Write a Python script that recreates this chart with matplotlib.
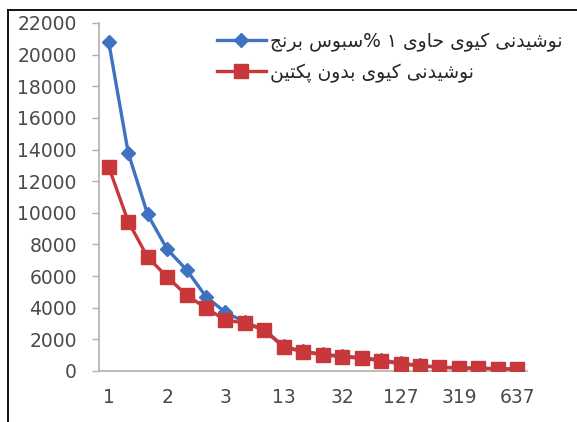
import matplotlib
matplotlib.use("Agg")
import matplotlib.pyplot as plt
from matplotlib.lines import Line2D

# ---------------- data ----------------
tick_labels = ["1", "2", "3", "13", "32", "127", "319", "637"]
n_points = 22
blue_values = [20800, 13800, 9900, 7700, 6400, 4700, 3700, 3100, 2600, 1550,
               1250, 1050, 950, 850, 700, 500, 350, 250, 200, 180, 150, 130]
red_values = [12900, 9450, 7200, 5950, 4800, 3980, 3220, 3030, 2580, 1500,
              1220, 1020, 900, 800, 650, 450, 320, 230, 190, 170, 140, 120]
label_blue = "نوشیدنی کیوی حاوی ۱ %سبوس برنج"
label_red = "نوشیدنی کیوی بدون پکتین"
y_ticks = list(range(0, 22001, 2000))

# ------------- minimal Arabic/Persian shaping (presentation forms) -------------
FORMS = {  # iso, fin, init, med
    'ا': ('\uFE8D', '\uFE8E', None, None),
    'ب': ('\uFE8F', '\uFE90', '\uFE91', '\uFE92'),
    'پ': ('\uFB56', '\uFB57', '\uFB58', '\uFB59'),
    'ت': ('\uFE95', '\uFE96', '\uFE97', '\uFE98'),
    'ج': ('\uFE9D', '\uFE9E', '\uFE9F', '\uFEA0'),
    'ح': ('\uFEA1', '\uFEA2', '\uFEA3', '\uFEA4'),
    'د': ('\uFEA9', '\uFEAA', None, None),
    'ر': ('\uFEAD', '\uFEAE', None, None),
    'س': ('\uFEB1', '\uFEB2', '\uFEB3', '\uFEB4'),
    'ش': ('\uFEB5', '\uFEB6', '\uFEB7', '\uFEB8'),
    'ک': ('\uFB8E', '\uFB8F', '\uFB90', '\uFB91'),
    'ن': ('\uFEE5', '\uFEE6', '\uFEE7', '\uFEE8'),
    'و': ('\uFEED', '\uFEEE', None, None),
    'ی': ('\uFBFC', '\uFBFD', '\uFBFE', '\uFBFF'),
}


def shape(text):
    out = []
    for i, ch in enumerate(text):
        if ch not in FORMS:
            out.append(ch)
            continue
        prev = text[i - 1] if i > 0 else ''
        nxt = text[i + 1] if i + 1 < len(text) else ''
        jp = prev in FORMS and FORMS[prev][2] is not None
        jn = FORMS[ch][2] is not None and nxt in FORMS
        iso, fin, ini, med = FORMS[ch]
        if jp and jn:
            out.append(med)
        elif jp:
            out.append(fin)
        elif jn:
            out.append(ini)
        else:
            out.append(iso)
    return ''.join(out)[::-1]


# ---------------- figure ----------------
W, H = 577, 422
fig = plt.figure(figsize=(W / 100, H / 100), dpi=100)
fig.patch.set_facecolor("white")

left_px, right_px, bottom_px, top_px = 99, 527, 371, 23
ax = fig.add_axes([left_px / W, 1 - bottom_px / H,
                   (right_px - left_px) / W, (bottom_px - top_px) / H])

x = list(range(n_points))
blue = "#3f72c0"
red = "#c8383a"
ax.plot(x, blue_values, color=blue, lw=2.4, marker="D", markersize=7.5,
        markerfacecolor=blue, markeredgecolor=blue, label=shape(label_blue),
        zorder=3)
ax.plot(x, red_values, color=red, lw=2.4, marker="s", markersize=10,
        markerfacecolor=red, markeredgecolor=red, label=shape(label_red),
        zorder=4)

ax.set_xlim(-0.5, n_points - 0.5)
ax.set_ylim(0, 22000)
ax.set_yticks(y_ticks)
ax.set_yticklabels([str(v) for v in y_ticks])
ax.set_xticks(x[::3])
ax.set_xticklabels(tick_labels)

for s in ("top", "right"):
    ax.spines[s].set_visible(False)
for s in ("left", "bottom"):
    ax.spines[s].set_color("#b0b0b0")
    ax.spines[s].set_linewidth(1.2)

ax.tick_params(axis="y", direction="out", length=5, width=1, color="#b0b0b0",
               labelsize=13.5, labelcolor="#4a4a4a", pad=11)
ax.tick_params(axis="x", length=0, labelsize=13.5, labelcolor="#4a4a4a", pad=12)

leg = ax.legend(loc="upper left", bbox_to_anchor=(217 / W, 1 - 32 / H),
                bbox_transform=fig.transFigure, frameon=False,
                prop={"family": ["DejaVu Sans"], "size": 13.5},
                handlelength=2.6, handletextpad=0.25, labelspacing=0.6,
                borderaxespad=0, borderpad=0)
for t in leg.get_texts():
    t.set_color("#262626")

# outer frame lines (left and top)
fig.add_artist(Line2D([8 / W, 8 / W], [0, 1 - 10 / H], transform=fig.transFigure,
                      color="black", lw=1.3))
fig.add_artist(Line2D([8 / W, 1], [1 - 10 / H, 1 - 10 / H], transform=fig.transFigure,
                      color="black", lw=1.3))

fig.savefig("out.png", dpi=100)
